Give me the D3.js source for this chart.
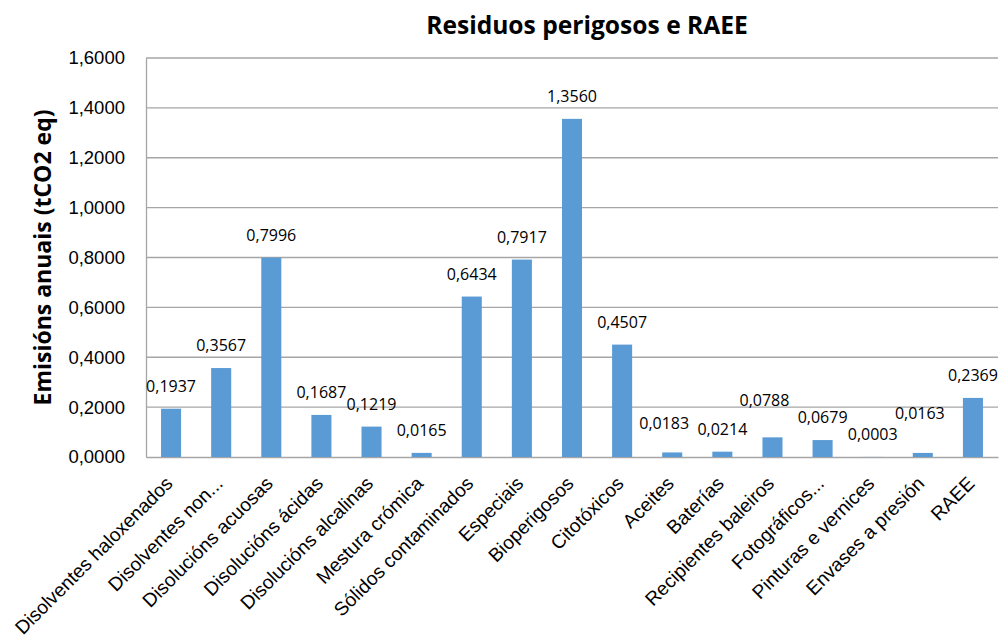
<!DOCTYPE html>
<html>
<head>
<meta charset="utf-8">
<script src="https://cdn.jsdelivr.net/npm/d3@7"></script>
<style>
  body { margin: 0; background: #fff; }
  svg { display: block; font-family: "Open Sans", sans-serif; }
</style>
</head>
<body>
<div id="chart"></div>
<script>
// data
const categories = [
  "Disolventes haloxenados", "Disolventes non...", "Disolucións acuosas",
  "Disolucións ácidas", "Disolucións alcalinas", "Mestura crómica",
  "Sólidos contaminados", "Especiais", "Bioperigosos", "Citotóxicos",
  "Aceites", "Baterías", "Recipientes baleiros", "Fotográficos...",
  "Pinturas e vernices", "Envases a presión", "RAEE"
];
const values = [
  0.1937, 0.3567, 0.7996, 0.1687, 0.1219, 0.0165, 0.6434, 0.7917, 1.3560,
  0.4507, 0.0183, 0.0214, 0.0788, 0.0679, 0.0003, 0.0163, 0.2369
];
const yTicks = [0, 0.2, 0.4, 0.6, 0.8, 1.0, 1.2, 1.4, 1.6];

// small nudges of the value labels (moved by hand in the original)
const labelNudge = { "Aceites": [-8, -6], "Recipientes baleiros": [-8, -14], "Envases a presión": [-3, -17] };

//size
const width = 1001, height = 635;
const margin = { top: 58, right: 3, bottom: 178, left: 146 };
const innerWidth = width - margin.left - margin.right;
const innerHeight = height - margin.top - margin.bottom;

const fmt = (v) => d3.format(".4f")(v).replace(".", ",");

const svg = d3.select("#chart").append("svg")
  .attr("width", width)
  .attr("height", height);

const g = svg.append("g").attr("transform", `translate(${margin.left},${margin.top})`);

//scale
const x = d3.scaleBand().domain(categories).range([0, innerWidth]).paddingInner(0.6).paddingOuter(0.3);
const y = d3.scaleLinear().domain([0, 1.6]).range([innerHeight, 0]);

//grid
g.append("g")
  .selectAll("line")
  .data(yTicks.slice(1))
  .join("line")
  .attr("x1", 0).attr("x2", innerWidth)
  .attr("y1", (d) => y(d)).attr("y2", (d) => y(d))
  .attr("stroke", "#a6a6a6").attr("stroke-width", 1.3);

//y axis
const yAxis = g.append("g")
  .call(d3.axisLeft(y).tickValues(yTicks).tickFormat(fmt).tickSize(0).tickPadding(21));
yAxis.select(".domain").attr("stroke", "#a6a6a6").attr("stroke-width", 1.3);
yAxis.selectAll("text").attr("font-size", 18.5).attr("fill", "#000");

//x axis
const xAxis = g.append("g")
  .attr("transform", `translate(0,${innerHeight})`)
  .call(d3.axisBottom(x).tickSize(0).tickPadding(0));
xAxis.select(".domain").attr("stroke", "#a6a6a6").attr("stroke-width", 1.3);
xAxis.selectAll("text")
  .attr("font-size", 19.2)
  .attr("fill", "#000")
  .attr("text-anchor", "end")
  .attr("dy", "0.35em")
  .attr("transform", "translate(-2,23) rotate(-45)");

//bars
g.append("g")
  .selectAll("rect")
  .data(values)
  .join("rect")
  .attr("x", (d, i) => x(categories[i]))
  .attr("y", (d) => y(d))
  .attr("width", x.bandwidth())
  .attr("height", (d) => y(0) - y(d))
  .attr("fill", "#5b9bd5");

//labels
g.append("g")
  .selectAll("text")
  .data(values)
  .join("text")
  .attr("x", (d, i) => x(categories[i]) + x.bandwidth() / 2 + (labelNudge[categories[i]] || [0, 0])[0])
  .attr("y", (d, i) => y(d) - 17 + (labelNudge[categories[i]] || [0, 0])[1])
  .attr("text-anchor", "middle")
  .attr("font-size", 16)
  .attr("fill", "#000")
  .text((d) => fmt(d));

//title
svg.append("text")
  .attr("x", 587)
  .attr("y", 34)
  .attr("text-anchor", "middle")
  .attr("font-size", 24.6)
  .attr("font-weight", "bold")
  .text("Residuos perigosos e RAEE");

//y label
svg.append("text")
  .attr("transform", `translate(51,${margin.top + innerHeight / 2}) rotate(-90)`)
  .attr("text-anchor", "middle")
  .attr("font-size", 23)
  .attr("font-weight", "bold")
  .text("Emisións anuais (tCO2 eq)");
</script>
</body>
</html>
